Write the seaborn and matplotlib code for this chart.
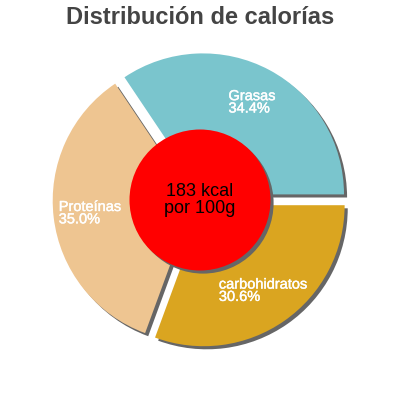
import numpy as np
import matplotlib
matplotlib.use("Agg")
import matplotlib.pyplot as plt
import matplotlib.patheffects as pe
import seaborn as sns

sns.set_theme(style="white")
plt.rcParams['font.family'] = ['Liberation Sans', 'DejaVu Sans']

# data
labels = ["Grasas", "Proteínas", "carbohidratos"]
percents = [34.4, 35.0, 30.6]
colors = ["#7AC5CD", "#EEC591", "#DAA520"]
center_text = "183 kcal\npor 100g"
title = "Distribución de calorías"

explode = [0.045] * len(percents)
shadow_off = (0.022, -0.022)

fig = plt.figure(figsize=(4, 4), dpi=100)
ax = fig.add_axes([0, 0, 1, 1])

# shadow pie first, then the real one on top
ax.pie(percents, explode=explode, colors=["#666666"] * 3, startangle=0,
       center=shadow_off, wedgeprops=dict(linewidth=0))
ax.pie(percents, explode=explode, colors=colors, startangle=0,
       wedgeprops=dict(linewidth=0))

# labels in the middle of each slice
angles = np.cumsum([0] + percents[:-1]) / 100 * 360 + np.array(percents) / 200 * 360
for lab, p, a, e in zip(labels, percents, angles, explode):
    r = 0.74 + e
    x = r * np.cos(np.radians(a))
    y = r * np.sin(np.radians(a))
    ax.text(x, y, f"{lab}\n{p:.1f}%", color="white", fontsize=10.5,
            ha="center", va="center", ma="left", linespacing=0.85,
            path_effects=[pe.withStroke(linewidth=0.3, foreground="white")])

# red centre circle with shadow
ax.add_patch(plt.Circle(shadow_off, 0.5, color="#666666", lw=0))
ax.add_patch(plt.Circle((0, 0), 0.5, color="#FF0000", lw=0))
ax.text(0, 0, center_text, ha="center", va="center", fontsize=13,
        color="black", linespacing=1.0)

lim = 200 / 141
ax.set_xlim(-lim, lim)
ax.set_ylim(-lim, lim)
ax.set_aspect("equal")
ax.axis("off")

fig.text(0.5, 1 - 18 / 400, title, ha="center", va="center",
         fontsize=17, fontweight="bold", color="#444444")

fig.savefig("out.png", dpi=100)
